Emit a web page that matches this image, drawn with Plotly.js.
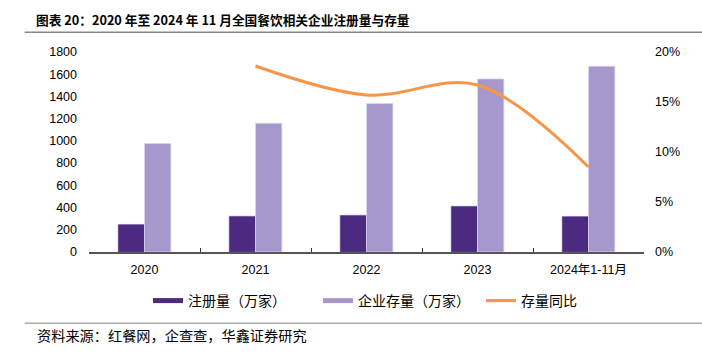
<!DOCTYPE html>
<html>
<head>
<meta charset="utf-8">
<script src="https://cdn.plot.ly/plotly-3.0.1.min.js"></script>
<style>
  html, body { margin: 0; padding: 0; background: #ffffff; }
  #chart { width: 702px; height: 361px; }
</style>
</head>
<body>
<div id="chart"></div>
<script>
// ---- data ----
const categories = ['2020', '2021', '2022', '2023', '2024年1-11月'];
const registered = [248, 322, 331, 412, 320];          // 注册量（万家）
const stock = [976, 1159, 1337, 1558, 1672];            // 企业存量（万家）
const stockYoY = [null, 0.186, 0.157, 0.167, 0.085];    // 存量同比
const seriesNames = ['注册量（万家）', '企业存量（万家）', '存量同比'];
const titleText = '图表 20：2020 年至 2024 年 11 月全国餐饮相关企业注册量与存量';
const sourceText = '资料来源：红餐网，企查查，华鑫证券研究';

const darkPurple = '#4B2A80';
const lightPurple = '#A698CC';
const orange = '#F79646';
const numFont = 'Liberation Sans, Arial, Noto Sans CJK SC, sans-serif';
const cjkFont = 'Noto Sans CJK SC, sans-serif';

const W = 702, H = 361;
const L = 89.3, R = 58, T = 51.7, B = 109.3;
const plotW = W - L - R;
const px2paperX = x => (x - L) / plotW;

const traces = [
  { type: 'bar', x: categories, y: registered, name: seriesNames[0], showlegend: false,
    marker: { color: darkPurple, line: { color: '#7d68a8', width: 0.5 } }, hoverinfo: 'y' },
  { type: 'bar', x: categories, y: stock, name: seriesNames[1], showlegend: false,
    marker: { color: lightPurple, line: { color: '#ddd6ee', width: 0.8 } }, hoverinfo: 'y' },
  { type: 'scatter', mode: 'lines', x: categories, y: stockYoY, yaxis: 'y2', name: seriesNames[2],
    showlegend: false, line: { color: orange, width: 3, shape: 'spline', smoothing: 1 } },
  // legend entries (wide swatches like the reference)
  { type: 'scatter', mode: 'lines', x: [categories[0]], y: [null], name: seriesNames[0],
    line: { color: darkPurple, width: 5 }, legend: 'legend' },
  { type: 'scatter', mode: 'lines', x: [categories[0]], y: [null], name: seriesNames[1],
    line: { color: lightPurple, width: 5 }, legend: 'legend' },
  { type: 'scatter', mode: 'lines', x: [categories[0]], y: [null], yaxis: 'y2', name: seriesNames[2],
    line: { color: orange, width: 3 }, legend: 'legend2' }
];

const legendCommon = {
  orientation: 'h', xref: 'container', yref: 'container',
  xanchor: 'left', y: 1 - 301 / H, yanchor: 'middle',
  font: { family: cjkFont, size: 14, color: '#000000' },
  itemwidth: 30, tracegroupgap: 0, borderwidth: 0, bgcolor: 'rgba(0,0,0,0)'
};

const layout = {
  width: W, height: H,
  margin: { l: L, r: R, t: T, b: B, pad: 0 },
  paper_bgcolor: '#ffffff', plot_bgcolor: '#ffffff',
  font: { family: numFont, size: 12.5, color: '#000000' },
  barmode: 'group', bargap: 0.525, bargroupgap: 0,
  title: {
    text: '<b>' + titleText + '</b>',
    font: { family: cjkFont, size: 12.7, color: '#000000' },
    xref: 'container', yref: 'container',
    x: 36 / W, xanchor: 'left', y: 1 - 21 / H, yanchor: 'middle'
  },
  xaxis: {
    type: 'category', showgrid: false, zeroline: false,
    showline: true, linecolor: '#555555', linewidth: 1.5,
    ticks: 'inside', tickson: 'boundaries', ticklen: 4, tickwidth: 1, tickcolor: '#333333',
    tickfont: { family: numFont, size: 12.5, color: '#000000' },
    ticklabelstandoff: 5
  },
  yaxis: {
    range: [0, 1800], dtick: 200, showgrid: false, zeroline: false, showline: false,
    ticks: '', tickfont: { family: numFont, size: 12.5, color: '#000000' },
    ticklabelstandoff: 11
  },
  yaxis2: {
    overlaying: 'y', side: 'right', range: [0, 0.2], dtick: 0.05, tickformat: '.0%',
    showgrid: false, zeroline: false, showline: false, ticks: '',
    tickfont: { family: numFont, size: 12.5, color: '#000000' },
    ticklabelstandoff: 10
  },
  legend: Object.assign({}, legendCommon, { x: 148 / W, entrywidth: 125, entrywidthmode: 'pixels' }),
  legend2: Object.assign({}, legendCommon, { x: 481 / W }),
  shapes: [
    { type: 'line', xref: 'paper', yref: 'paper',
      x0: px2paperX(25), x1: px2paperX(702), y0: 1 + (T - 32) / (H - T - B), y1: 1 + (T - 32) / (H - T - B),
      line: { color: '#888888', width: 1.5 } },
    { type: 'line', xref: 'paper', yref: 'paper',
      x0: px2paperX(25), x1: px2paperX(702), y0: -(323 - (H - B)) / (H - T - B), y1: -(323 - (H - B)) / (H - T - B),
      line: { color: '#aaaaaa', width: 1.5 } }
  ],
  annotations: [
    { text: sourceText, xref: 'paper', yref: 'paper', x: px2paperX(35), xanchor: 'left',
      y: -(335 - (H - B)) / (H - T - B), yanchor: 'middle', showarrow: false,
      font: { family: cjkFont, size: 14.2, color: '#000000' } }
  ]
};

Plotly.newPlot('chart', traces, layout, { displayModeBar: false, staticPlot: true });
</script>
</body>
</html>
